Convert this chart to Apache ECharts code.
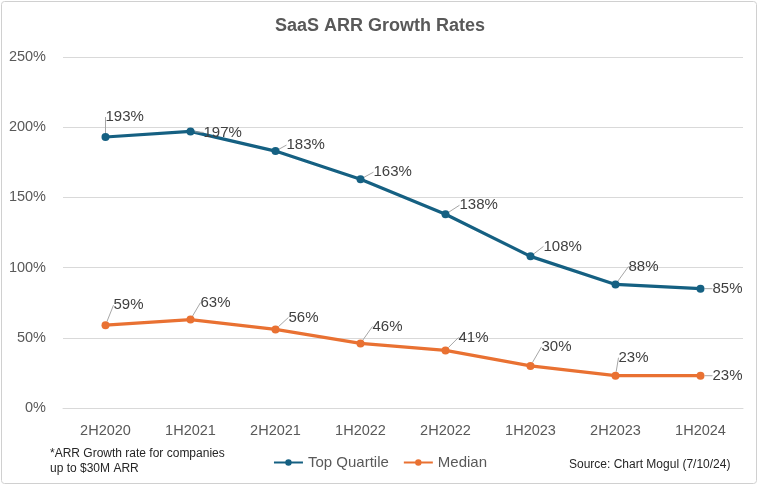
<!DOCTYPE html>
<html>
<head>
<meta charset="utf-8">
<script src="https://cdn.jsdelivr.net/npm/echarts@6/dist/echarts.min.js"></script>
<style>html,body{margin:0;padding:0;background:#fff}#c{width:760px;height:487px}</style>
</head>
<body>
<div id="c"></div>
<script>
const categories = ['2H2020','1H2021','2H2021','1H2022','2H2022','1H2023','2H2023','1H2024'];
const topQuartile = [193,197,183,163,138,108,88,85];
const median = [59,63,56,46,41,30,23,23];
const yTicks = [0,50,100,150,200,250];

// label displacement (layout only)
const topOffsets = [[-9,-20],[4,1],[2,-6],[4,-7],[5,-9],[4,-10],[4,-18],[3,0]];
const medOffsets = [[-1,-20],[1,-17],[4,-12],[3,-17],[4,-13],[2,-19],[-6,-18],[3,0]];

const FONT = 'Liberation Sans, Arial, sans-serif';
const chart = echarts.init(document.getElementById('c'), null, {renderer:'canvas'});

function mkSeries(name, data, color, offsets){
  return {
    name, type:'line', data,
    symbol:'circle', symbolSize:8,
    lineStyle:{width:3.2, color},
    itemStyle:{color},
    label:{show:true, position:'right', distance:5, formatter:'{c}%',
      fontFamily:FONT, fontSize:15, color:'#404040'},
    labelLine:{show:true, lineStyle:{color:'#a6a6a6', width:1}},
    labelLayout: function(p){ const o = offsets[p.dataIndex]; return {dx:o[0], dy:o[1]}; },
    emphasis:{disabled:true},
    animation:false
  };
}

chart.setOption({
  animation:false,
  title:{text:'SaaS ARR Growth Rates', left:'center', top:12,
    textStyle:{fontFamily:FONT, fontSize:18, fontWeight:'bold', color:'#595959'}},
  grid:{left:63, right:17, top:57, bottom:79},
  xAxis:{type:'category', data:categories, boundaryGap:true,
    axisLine:{show:true, lineStyle:{color:'#d9d9d9'}},
    axisTick:{show:false},
    axisLabel:{fontFamily:FONT, fontSize:14.5, color:'#595959', margin:15}},
  yAxis:{type:'value', min:yTicks[0], max:yTicks[yTicks.length-1], interval:50,
    axisLine:{show:false}, axisTick:{show:false},
    splitLine:{lineStyle:{color:'#d9d9d9', width:1}},
    axisLabel:{formatter:'{value}%', fontFamily:FONT, fontSize:14.5, color:'#595959', margin:17}},
  legend:{bottom:12, left:'center', itemWidth:29, itemHeight:8, itemGap:14,
    textStyle:{fontFamily:FONT, fontSize:15, color:'#595959'},
    data:['Top Quartile','Median']},
  series:[
    mkSeries('Top Quartile', topQuartile, '#156082', topOffsets),
    mkSeries('Median', median, '#E97132', medOffsets)
  ],
  graphic:[
    {type:'rect', shape:{x:1.5, y:1.5, width:755, height:482, r:3},
      style:{fill:'none', stroke:'#d0d0d0', lineWidth:1}, silent:true},
    {type:'text', left:50, top:446,
      style:{text:'*ARR Growth rate for companies\nup to $30M ARR', fontFamily:FONT, fontSize:12, lineHeight:15, fill:'#262626'}},
    {type:'text', left:569, top:459,
      style:{text:'Source: Chart Mogul (7/10/24)', fontFamily:FONT, fontSize:12, fill:'#262626'}}
  ]
});
</script>
</body>
</html>
